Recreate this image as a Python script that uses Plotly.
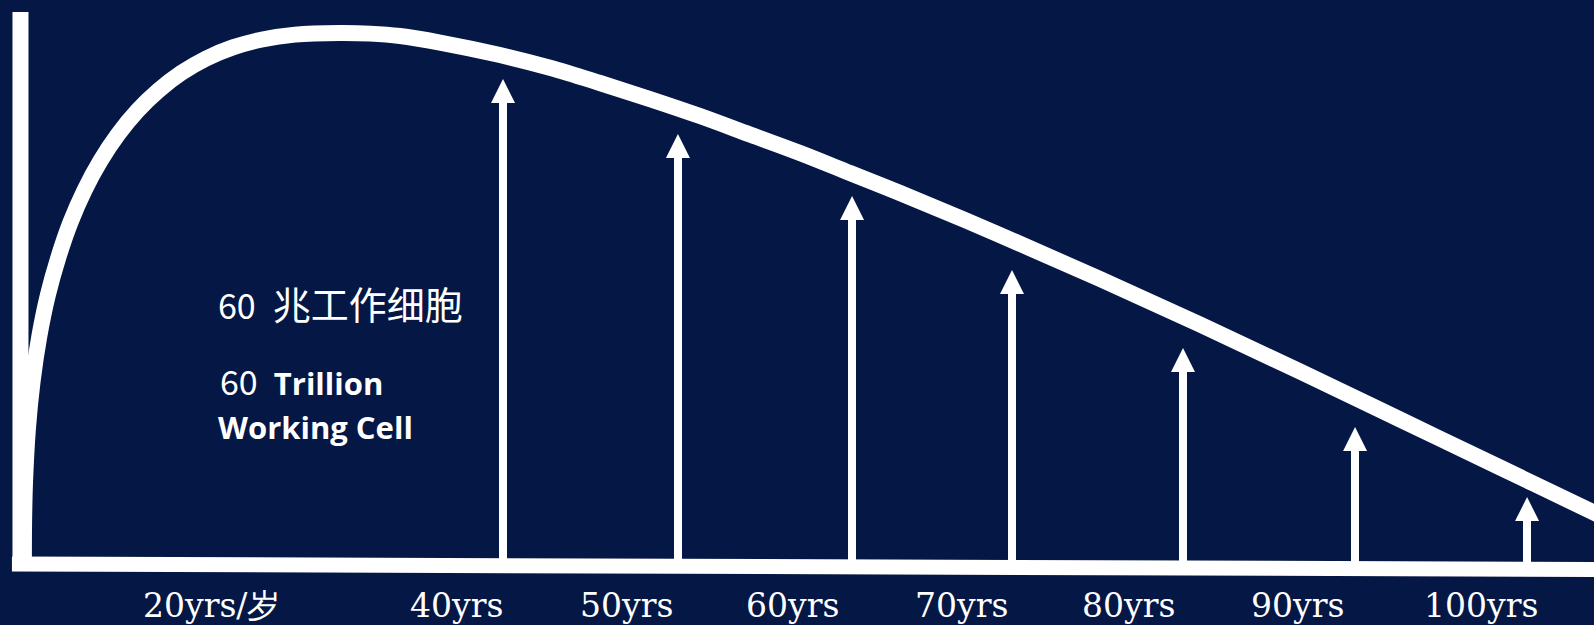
import plotly.graph_objects as go

# ---------------- data ----------------
# vitality / working-cell curve (age in years, working cells in trillions)
curve_age = [11.93, 11.94, 11.99, 12.16, 12.44, 12.83, 13.33, 13.95, 14.66, 15.49,
             16.42, 17.45, 18.58, 19.82, 21.15, 22.60, 24.17, 25.89, 27.82, 30.45,
             32.21, 33.97, 36.31, 39.82, 42.75, 45.68, 48.61, 51.54, 54.47, 57.40,
             60.33, 63.26, 69.12, 74.98, 80.84, 86.70, 92.56, 98.42, 104.28, 107.21]
curve_cells = [0.68, 4.52, 8.90, 15.13, 20.65, 25.69, 30.35, 34.65, 38.62, 42.27,
               45.58, 48.56, 51.22, 53.52, 55.49, 57.11, 58.37, 59.27, 59.82, 60.00,
               59.93, 59.66, 58.92, 57.51, 56.07, 54.35, 52.54, 50.62, 48.53, 46.44,
               44.18, 41.92, 37.17, 32.20, 27.06, 21.75, 16.33, 10.90, 5.48, 2.77]

# upward arrows (age, remaining working cells)
arrow_age = [40, 50.25, 60.45, 69.82, 79.84, 89.92, 100.0]
arrow_cells = [54.80, 48.59, 41.58, 33.22, 24.41, 15.48, 7.57]

# age labels along the bottom
tick_labels = ["20yrs/岁", "40yrs", "50yrs", "60yrs", "70yrs", "80yrs", "90yrs", "100yrs"]
tick_label_age = [22.95, 37.30, 47.21, 56.99, 66.84, 76.62, 86.52, 97.30]

# axis extents
x_range = [10.53, 103.92]
y_range = [-6.89, 63.73]
axis_x_start = 11.23
axis_x_end = 105.0
baseline_drop = -0.62
vaxis_x = 11.73
vaxis_top = 62.37

# ---------------- style ----------------
BG = "#051744"
WHITE = "#FFFFFF"
head_len = 1.4  # shaft stops under the arrow head (value units)

fig = go.Figure()

# arrow shafts
fig.add_trace(go.Bar(
    x=arrow_age,
    y=[v - head_len for v in arrow_cells],
    base=0,
    width=0.47,
    marker=dict(color=WHITE, line=dict(width=0)),
    hoverinfo="skip",
    showlegend=False,
))

# arrow heads
fig.add_trace(go.Scatter(
    x=arrow_age, y=arrow_cells, mode="markers",
    marker=dict(symbol="arrow-up", size=24, color=WHITE, line=dict(width=0)),
    hoverinfo="skip", showlegend=False,
))

# curve
fig.add_trace(go.Scatter(
    x=curve_age, y=curve_cells, mode="lines",
    line=dict(color=WHITE, width=16, shape="spline", smoothing=1.0, simplify=False),
    hoverinfo="skip", showlegend=False,
))

# horizontal axis (slightly sloped as in the drawing)
fig.add_trace(go.Scatter(
    x=[axis_x_start, axis_x_end], y=[0, baseline_drop], mode="lines",
    line=dict(color=WHITE, width=15),
    hoverinfo="skip", showlegend=False,
))

# vertical axis
fig.add_trace(go.Scatter(
    x=[vaxis_x, vaxis_x], y=[-0.8, vaxis_top], mode="lines",
    line=dict(color=WHITE, width=16),
    hoverinfo="skip", showlegend=False,
))

annotations = []
for lab, ax in zip(tick_labels, tick_label_age):
    annotations.append(dict(
        x=ax, y=0, xref="x", yref="paper", yanchor="middle", xanchor="center",
        yshift=625 - 605, text=lab, showarrow=False,
        font=dict(family="DejaVu Serif", size=33, color=WHITE),
    ))

annotations.append(dict(
    x=216 / 1594, y=1 - 302 / 625, xref="paper", yref="paper",
    xanchor="left", yanchor="middle", showarrow=False, align="left",
    text="<span style=\"font-size:34px\">60</span>\u00a0\u00a0兆工作细胞",
    font=dict(family="Noto Sans CJK SC", size=38, color=WHITE),
))

annotations.append(dict(
    x=218 / 1594, y=1 - 380 / 625, xref="paper", yref="paper",
    xanchor="left", yanchor="middle", showarrow=False, align="left",
    text="<span style=\"font-family:'Noto Sans CJK SC';font-size:34px\">60</span>\u00a0\u00a0<b>Trillion</b>",
    font=dict(family="Open Sans", size=31, color=WHITE),
))

annotations.append(dict(
    x=216 / 1594, y=1 - 427 / 625, xref="paper", yref="paper",
    xanchor="left", yanchor="middle", showarrow=False, align="left",
    text="<b>Working Cell</b>",
    font=dict(family="Open Sans", size=31, color=WHITE),
))

fig.update_layout(
    width=1594, height=625,
    margin=dict(l=0, r=0, t=0, b=0),
    paper_bgcolor=BG, plot_bgcolor=BG,
    xaxis=dict(range=x_range, visible=False, fixedrange=True),
    yaxis=dict(range=y_range, visible=False, fixedrange=True),
    annotations=annotations,
    showlegend=False,
    bargap=0,
)

fig.write_html("out.html", config={"displayModeBar": False})
